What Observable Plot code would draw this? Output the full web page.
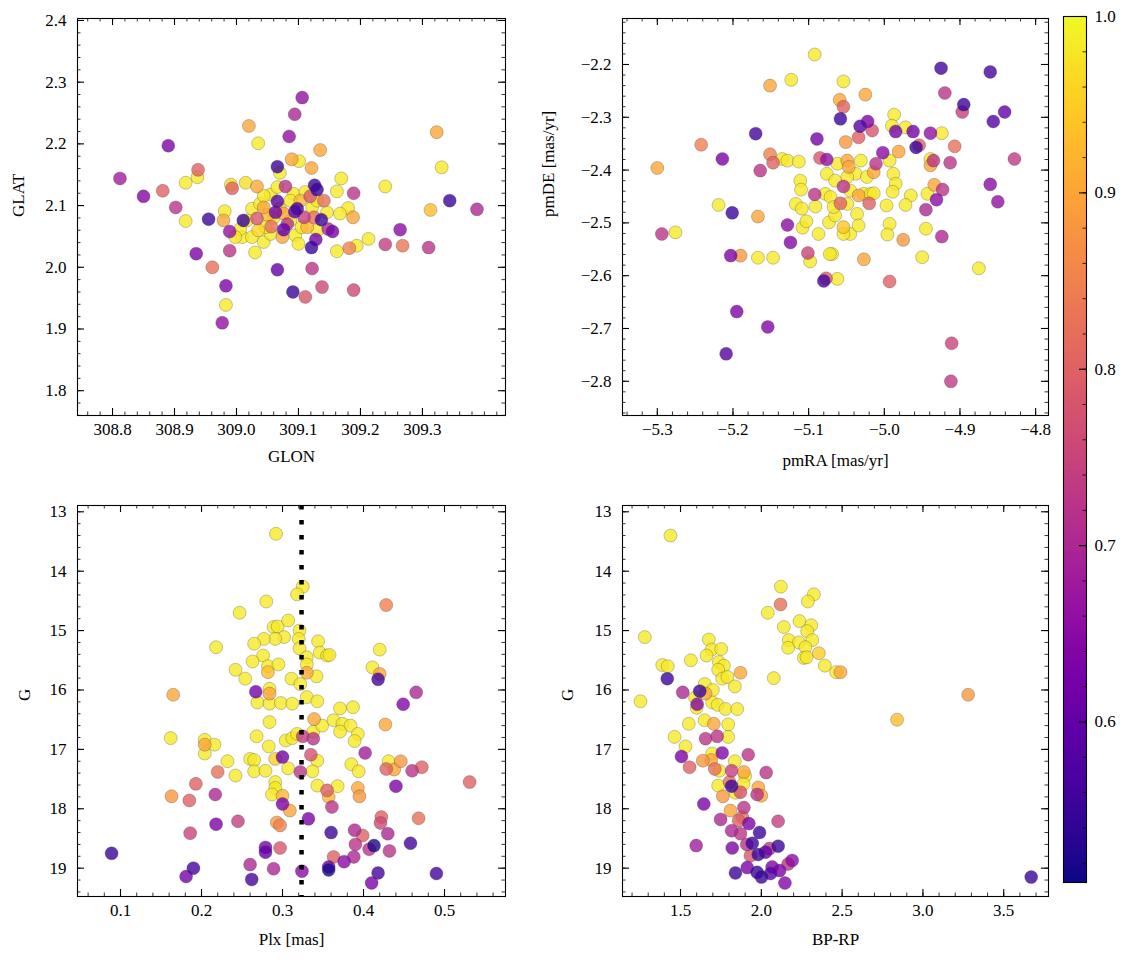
<!DOCTYPE html>
<html><head><meta charset="utf-8">
<script src="https://cdn.jsdelivr.net/npm/d3@7"></script>
<script src="https://cdn.jsdelivr.net/npm/@observablehq/plot@0.6"></script>
<style>
body{margin:0;background:#fff;}
#chart{position:relative;width:1133px;height:965px;background:#fff;font-family:"Liberation Serif",serif;}
#chart .pan{position:absolute;}
#chart svg{overflow:visible;}
</style></head>
<body><div id="chart"></div>
<script>
// ---- data: [x, y, membership probability] ----
const skyPoints = [
[308.812,2.144,0.68],[308.850,2.115,0.64],[308.890,2.197,0.63],[308.881,2.124,0.80],[308.902,2.097,0.72],
[308.938,2.158,0.80],[308.937,2.146,0.98],[308.918,2.137,0.98],[308.918,2.075,0.98],[308.955,2.078,0.55],
[308.935,2.022,0.63],[308.961,2.000,0.82],[308.983,1.970,0.63],[308.983,1.939,0.98],[308.977,1.910,0.66],
[308.981,2.091,0.98],[308.979,2.076,0.90],[308.989,2.058,0.66],[308.989,2.027,0.72],[308.991,2.134,0.97],
[308.993,2.128,0.80],[309.015,2.137,0.97],[309.033,2.131,0.90],[309.020,2.229,0.90],[309.035,2.201,0.98],
[309.085,2.212,0.66],[309.106,2.275,0.66],[309.094,2.248,0.70],[309.066,2.163,0.55],[309.070,2.153,0.98],
[309.089,2.175,0.90],[309.101,2.172,0.98],[309.135,2.190,0.90],[309.121,2.161,0.90],[309.169,2.144,0.98],
[309.162,2.123,0.98],[309.189,2.120,0.72],[309.126,2.133,0.55],[309.130,2.126,0.55],[309.119,2.115,0.78],
[309.141,2.108,0.82],[309.180,2.096,0.98],[309.167,2.087,0.98],[309.188,2.081,0.90],[309.240,2.131,0.98],
[309.323,2.219,0.90],[309.331,2.162,0.98],[309.313,2.093,0.93],[309.344,2.108,0.55],[309.388,2.094,0.70],
[309.264,2.061,0.65],[309.240,2.037,0.74],[309.268,2.035,0.83],[309.310,2.032,0.72],[309.213,2.046,0.98],
[309.194,2.035,0.98],[309.182,2.031,0.85],[309.162,2.026,0.98],[309.155,2.058,0.62],[309.148,2.062,0.70],
[309.121,2.032,0.55],[309.128,2.045,0.62],[309.137,2.077,0.55],[309.066,1.996,0.60],[309.122,1.998,0.72],
[309.091,1.960,0.55],[309.111,1.952,0.78],[309.138,1.968,0.76],[309.189,1.963,0.76],[309.030,2.024,0.98],
[309.011,2.076,0.55],[309.055,2.118,0.98],[309.066,2.130,0.98],[309.079,2.131,0.72],[309.092,2.119,0.98],
[309.111,2.122,0.98],[309.066,2.107,0.58],[309.098,2.095,0.56],[309.094,2.090,0.60],[309.063,2.089,0.62],
[309.033,2.079,0.78],[309.056,2.066,0.82],[309.076,2.061,0.60],[309.082,2.070,0.72],[309.109,2.081,0.74],
[309.125,2.081,0.82],[309.076,2.087,0.90],[309.044,2.097,0.90],[309.025,2.095,0.98],[309.038,2.103,0.98],
[309.009,2.049,0.98],[309.025,2.049,0.98],[309.044,2.041,0.98],[309.055,2.054,0.98],[309.074,2.049,0.90],
[309.095,2.052,0.98],[309.100,2.038,0.98],[309.114,2.065,0.92],[309.130,2.060,0.98],[309.146,2.089,0.98],
[309.006,2.062,0.98],[309.017,2.076,0.98],[309.047,2.065,0.98],[309.087,2.076,0.98],[309.122,2.097,0.98],
[309.130,2.108,0.98],[309.044,2.116,0.98],[309.087,2.108,0.98],[309.103,2.108,0.92],[308.998,2.049,0.98],
[309.060,2.080,0.97],[309.035,2.060,0.96],[309.105,2.065,0.98],[309.070,2.095,0.95],[309.050,2.085,0.93]
];
const pmPoints = [
[-5.092,-2.181,0.98],[-5.123,-2.229,0.98],[-5.151,-2.240,0.90],[-5.054,-2.232,0.98],[-5.059,-2.267,0.90],
[-5.054,-2.280,0.80],[-5.058,-2.303,0.55],[-5.051,-2.347,0.88],[-5.170,-2.331,0.56],[-5.089,-2.341,0.62],
[-5.242,-2.352,0.85],[-5.214,-2.379,0.63],[-5.300,-2.396,0.90],[-5.164,-2.401,0.72],[-5.151,-2.370,0.85],
[-5.147,-2.386,0.80],[-5.135,-2.379,0.98],[-5.128,-2.382,0.98],[-5.113,-2.384,0.98],[-5.085,-2.377,0.78],
[-5.076,-2.380,0.66],[-5.111,-2.420,0.98],[-5.110,-2.437,0.98],[-5.092,-2.446,0.72],[-5.076,-2.407,0.98],
[-5.054,-2.431,0.72],[-5.078,-2.445,0.98],[-5.049,-2.382,0.90],[-5.025,-2.257,0.90],[-4.925,-2.207,0.56],
[-4.860,-2.214,0.56],[-4.920,-2.254,0.72],[-4.895,-2.276,0.55],[-4.897,-2.290,0.74],[-4.841,-2.290,0.60],
[-4.856,-2.308,0.58],[-4.987,-2.295,0.98],[-4.990,-2.316,0.98],[-4.972,-2.319,0.98],[-4.985,-2.327,0.62],
[-4.962,-2.327,0.62],[-4.939,-2.330,0.66],[-4.924,-2.330,0.98],[-5.032,-2.317,0.58],[-5.022,-2.308,0.63],
[-5.016,-2.325,0.78],[-5.034,-2.338,0.80],[-4.958,-2.357,0.55],[-4.954,-2.353,0.80],[-4.907,-2.355,0.82],
[-5.002,-2.367,0.65],[-4.981,-2.365,0.90],[-4.993,-2.382,0.98],[-4.939,-2.379,0.98],[-4.935,-2.382,0.72],
[-4.939,-2.391,0.90],[-4.913,-2.386,0.72],[-4.828,-2.379,0.73],[-5.011,-2.388,0.72],[-5.014,-2.404,0.90],
[-4.988,-2.407,0.98],[-4.985,-2.426,0.98],[-4.989,-2.441,0.98],[-4.965,-2.448,0.98],[-4.943,-2.445,0.98],
[-4.934,-2.428,0.90],[-4.923,-2.437,0.72],[-4.860,-2.427,0.65],[-4.850,-2.460,0.66],[-5.062,-2.388,0.98],
[-5.047,-2.394,0.90],[-5.031,-2.382,0.98],[-5.038,-2.407,0.98],[-5.049,-2.413,0.98],[-5.065,-2.420,0.98],
[-5.023,-2.413,0.98],[-5.045,-2.439,0.98],[-5.027,-2.445,0.98],[-5.034,-2.448,0.90],[-5.018,-2.445,0.98],
[-4.931,-2.456,0.65],[-4.945,-2.475,0.70],[-4.924,-2.526,0.70],[-4.945,-2.511,0.98],[-4.950,-2.565,0.98],
[-4.875,-2.586,0.98],[-4.975,-2.532,0.88],[-5.027,-2.569,0.90],[-4.993,-2.611,0.80],[-4.911,-2.728,0.75],
[-4.912,-2.800,0.73],[-5.069,-2.559,0.98],[-4.993,-2.502,0.98],[-4.996,-2.522,0.98],[-4.997,-2.467,0.98],
[-4.972,-2.466,0.98],[-5.045,-2.521,0.98],[-5.036,-2.483,0.98],[-5.034,-2.505,0.98],[-5.049,-2.464,0.98],
[-5.020,-2.463,0.80],[-5.014,-2.444,0.98],[-5.219,-2.466,0.98],[-5.201,-2.481,0.55],[-5.167,-2.488,0.90],
[-5.294,-2.521,0.72],[-5.276,-2.518,0.98],[-5.128,-2.504,0.65],[-5.124,-2.537,0.64],[-5.203,-2.562,0.63],
[-5.190,-2.562,0.88],[-5.167,-2.566,0.98],[-5.147,-2.566,0.98],[-5.101,-2.557,0.75],[-5.098,-2.573,0.98],
[-5.072,-2.559,0.98],[-5.080,-2.610,0.56],[-5.077,-2.605,0.80],[-5.062,-2.606,0.98],[-5.195,-2.668,0.63],
[-5.154,-2.697,0.64],[-5.209,-2.748,0.58],[-5.117,-2.464,0.98],[-5.109,-2.473,0.98],[-5.108,-2.509,0.98],
[-5.103,-2.497,0.98],[-5.087,-2.521,0.98],[-5.091,-2.469,0.98],[-5.073,-2.499,0.98],[-5.065,-2.486,0.98],
[-5.058,-2.463,0.80],[-5.054,-2.508,0.94],[-5.071,-2.451,0.98],[-5.067,-2.470,0.98],[-5.054,-2.521,0.98]
];
const plxPoints = [
[0.292,13.37,0.98],[0.325,14.26,0.98],[0.318,14.39,0.98],[0.280,14.51,0.98],[0.247,14.70,0.98],
[0.289,14.94,0.98],[0.294,14.93,0.98],[0.307,14.83,0.98],[0.321,15.00,0.98],[0.302,15.11,0.98],
[0.291,15.14,0.98],[0.277,15.14,0.98],[0.265,15.22,0.98],[0.276,15.42,0.98],[0.263,15.52,0.98],
[0.218,15.28,0.98],[0.242,15.66,0.98],[0.254,15.81,0.98],[0.282,15.60,0.98],[0.282,15.70,0.93],
[0.295,15.57,0.98],[0.320,15.14,0.98],[0.321,15.30,0.98],[0.330,15.45,0.98],[0.344,15.18,0.98],
[0.346,15.37,0.98],[0.355,15.42,0.98],[0.330,15.57,0.98],[0.330,15.71,0.90],[0.342,15.77,0.98],
[0.311,15.81,0.98],[0.322,15.90,0.98],[0.267,16.03,0.62],[0.284,16.06,0.90],[0.284,15.98,0.98],
[0.165,16.08,0.90],[0.269,16.21,0.98],[0.284,16.23,0.98],[0.298,16.22,0.98],[0.312,16.23,0.98],
[0.330,16.12,0.98],[0.343,16.19,0.98],[0.428,14.57,0.85],[0.420,15.32,0.98],[0.358,15.41,0.98],
[0.411,15.62,0.98],[0.420,15.73,0.90],[0.418,15.82,0.56],[0.465,16.04,0.70],[0.449,16.24,0.64],
[0.371,16.31,0.98],[0.387,16.29,0.98],[0.162,16.81,0.98],[0.204,16.84,0.98],[0.204,16.92,0.90],
[0.216,16.92,0.98],[0.204,17.07,0.98],[0.232,17.20,0.98],[0.220,17.38,0.82],[0.242,17.44,0.98],
[0.193,17.58,0.80],[0.163,17.79,0.88],[0.185,17.86,0.80],[0.217,17.76,0.70],[0.186,18.41,0.75],
[0.218,18.26,0.63],[0.245,18.21,0.74],[0.190,19.00,0.56],[0.181,19.14,0.62],[0.260,18.94,0.70],
[0.262,19.19,0.56],[0.279,18.65,0.62],[0.279,18.73,0.60],[0.297,18.66,0.78],[0.289,19.01,0.70],
[0.324,19.05,0.65],[0.268,16.78,0.98],[0.283,16.95,0.98],[0.284,16.54,0.98],[0.260,17.16,0.98],
[0.265,17.18,0.98],[0.265,17.37,0.98],[0.279,17.36,0.98],[0.291,17.16,0.95],[0.300,17.13,0.62],
[0.307,17.32,0.98],[0.304,16.85,0.98],[0.312,16.81,0.98],[0.291,17.55,0.98],[0.291,17.65,0.98],
[0.287,17.76,0.98],[0.300,17.78,0.92],[0.300,17.92,0.63],[0.309,18.03,0.90],[0.293,18.23,0.88],
[0.297,18.28,0.85],[0.322,17.38,0.72],[0.325,16.78,0.73],[0.338,16.82,0.72],[0.335,17.09,0.77],
[0.339,16.49,0.90],[0.338,16.70,0.98],[0.349,16.60,0.98],[0.343,17.19,0.98],[0.337,17.37,0.98],
[0.343,17.61,0.98],[0.355,17.69,0.80],[0.332,18.17,0.63],[0.318,16.74,0.98],[0.427,16.58,0.90],
[0.363,16.51,0.98],[0.374,16.57,0.98],[0.384,16.60,0.98],[0.371,16.70,0.98],[0.393,16.74,0.98],
[0.389,16.86,0.98],[0.402,17.06,0.68],[0.385,17.25,0.98],[0.394,17.37,0.98],[0.431,17.20,0.98],
[0.446,17.20,0.88],[0.438,17.34,0.90],[0.428,17.33,0.80],[0.460,17.36,0.72],[0.472,17.30,0.80],
[0.531,17.55,0.80],[0.440,17.62,0.63],[0.368,17.62,0.98],[0.393,17.65,0.90],[0.395,17.79,0.88],
[0.357,17.80,0.92],[0.361,17.97,0.72],[0.468,18.16,0.82],[0.422,18.14,0.80],[0.421,18.24,0.76],
[0.360,18.40,0.55],[0.389,18.36,0.70],[0.399,18.45,0.80],[0.430,18.42,0.70],[0.390,18.60,0.72],
[0.413,18.62,0.52],[0.407,18.68,0.72],[0.432,18.71,0.72],[0.458,18.58,0.56],[0.363,18.81,0.80],
[0.376,18.89,0.65],[0.388,18.81,0.70],[0.357,18.98,0.60],[0.357,19.03,0.52],[0.418,19.08,0.56],
[0.410,19.25,0.63],[0.490,19.09,0.56],[0.089,18.75,0.55]
];
const cmdPoints = [
[1.438,13.40,0.98],[2.121,14.26,0.98],[2.119,14.56,0.82],[2.040,14.70,0.98],[2.325,14.39,0.98],
[2.288,14.51,0.98],[2.236,14.84,0.98],[2.139,14.94,0.98],[2.309,14.91,0.98],[2.284,15.01,0.98],
[2.170,15.16,0.98],[2.232,15.20,0.98],[2.315,15.16,0.98],[2.166,15.29,0.98],[2.273,15.28,0.98],
[2.356,15.38,0.95],[2.263,15.46,0.98],[2.280,15.45,0.98],[2.393,15.59,0.98],[2.463,15.70,0.98],
[2.490,15.70,0.90],[2.077,15.80,0.98],[1.279,15.11,0.98],[1.252,16.19,0.98],[1.387,15.58,0.98],
[1.421,15.60,0.98],[1.418,15.81,0.55],[1.564,15.50,0.98],[1.675,15.15,0.98],[1.692,15.32,0.98],
[1.752,15.31,0.98],[1.661,15.42,0.98],[1.737,15.53,0.98],[1.768,15.59,0.98],[1.733,15.66,0.98],
[1.871,15.71,0.90],[1.758,15.81,0.98],[1.790,15.78,0.98],[1.836,15.94,0.98],[1.514,16.04,0.70],
[1.619,16.02,0.55],[1.655,16.06,0.90],[1.603,16.24,0.64],[1.650,15.90,0.98],[1.700,16.00,0.98],
[1.696,16.21,0.98],[1.730,16.25,0.98],[1.778,16.32,0.98],[1.851,16.32,0.98],[1.590,16.13,0.98],
[1.551,16.57,0.98],[1.649,16.51,0.98],[1.706,16.57,0.90],[1.795,16.58,0.98],[1.600,16.30,0.98],
[1.463,16.79,0.98],[1.531,16.95,0.98],[1.506,17.12,0.63],[1.556,17.30,0.80],[1.655,16.82,0.72],
[1.727,16.78,0.72],[1.758,17.06,0.64],[1.795,16.79,0.98],[1.696,17.07,0.98],[1.638,17.19,0.88],
[1.690,17.18,0.90],[1.836,17.20,0.98],[1.919,17.09,0.72],[1.712,17.33,0.82],[1.740,17.36,0.98],
[1.816,17.36,0.74],[1.892,17.38,0.90],[1.900,17.45,0.98],[2.030,17.39,0.72],[1.733,17.61,0.98],
[1.803,17.55,0.82],[1.816,17.62,0.55],[1.762,17.79,0.88],[1.840,17.73,0.98],[1.871,17.72,0.77],
[1.890,17.58,0.98],[1.981,17.64,0.90],[1.974,17.76,0.72],[2.000,17.78,0.90],[1.644,17.92,0.63],
[1.809,18.03,0.90],[1.892,17.98,0.72],[1.748,18.18,0.70],[1.882,18.14,0.82],[1.923,18.25,0.63],
[1.860,18.20,0.80],[2.104,18.21,0.74],[1.816,18.37,0.70],[1.871,18.42,0.72],[1.989,18.40,0.55],
[1.944,18.58,0.55],[1.910,18.60,0.72],[1.597,18.62,0.68],[1.820,18.66,0.63],[2.104,18.63,0.55],
[1.933,18.79,0.78],[1.981,18.77,0.55],[2.026,18.73,0.60],[2.050,18.67,0.72],[2.191,18.87,0.65],
[2.166,18.93,0.72],[1.913,18.99,0.63],[1.840,19.08,0.55],[1.974,19.07,0.55],[2.001,19.15,0.55],
[2.057,19.09,0.58],[2.067,18.98,0.63],[2.113,19.04,0.63],[2.146,19.25,0.64],[3.670,19.15,0.55],
[3.280,16.08,0.88],[2.840,16.50,0.93]
];
const plxCut = 0.3235;

// ---- tick labels ----
const glonTicks = [308.8, 308.9, 309.0, 309.1, 309.2, 309.3];
const glatTicks = [1.8, 1.9, 2.0, 2.1, 2.2, 2.3, 2.4];
const pmraTicks = [-5.3, -5.2, -5.1, -5.0, -4.9, -4.8];
const pmdeTicks = [-2.8, -2.7, -2.6, -2.5, -2.4, -2.3, -2.2];
const plxTicks = [0.1, 0.2, 0.3, 0.4, 0.5];
const gTicks = [13, 14, 15, 16, 17, 18, 19];
const bprpTicks = [1.5, 2.0, 2.5, 3.0, 3.5];
const probTicks = [0.6, 0.7, 0.8, 0.9, 1.0];
const probDomain = [0.509, 1.0];

const FONT = "Liberation Serif";
const FS = 17;
const f1 = d3.format(".1f"), f0 = d3.format("d");

function minorVals(domain, step) {
  const lo = Math.min(...domain), hi = Math.max(...domain);
  const a = Math.ceil(lo / step - 1e-9), b = Math.floor(hi / step + 1e-9);
  return d3.range(a, b + 1).map(i => +(i * step).toFixed(6));
}

function panel(o) {
  const innerW = o.width - o.mL - o.mR, innerH = o.height - o.mT - o.mB;
  const tx = (vals, len, sw) => [
    Plot.tickX(vals, {x: d => d, insetTop: innerH - len, stroke: "#000", strokeWidth: sw}),
    Plot.tickX(vals, {x: d => d, insetBottom: innerH - len, stroke: "#000", strokeWidth: sw})
  ];
  const ty = (vals, len, sw) => [
    Plot.tickY(vals, {y: d => d, insetRight: innerW - len, stroke: "#000", strokeWidth: sw}),
    Plot.tickY(vals, {y: d => d, insetLeft: innerW - len, stroke: "#000", strokeWidth: sw})
  ];
  const sorted = o.data.slice().sort((a, b) => b[2] - a[2]);
  return Plot.plot({
    width: o.width, height: o.height,
    marginLeft: o.mL, marginRight: o.mR, marginTop: o.mT, marginBottom: o.mB,
    style: {fontFamily: FONT, fontSize: FS + "px", background: "transparent", color: "#000", overflow: "visible"},
    x: {domain: o.xDomain, ticks: o.xMajor, tickSize: 0, tickPadding: 7, tickFormat: o.xFmt, label: null},
    y: {domain: o.yDomain, reverse: !!o.yReverse, ticks: o.yMajor, tickSize: 0, tickPadding: 11, tickFormat: o.yFmt, label: null},
    color: {type: "linear", scheme: "plasma", domain: probDomain},
    marks: [
      Plot.dot(sorted, {x: d => d[0], y: d => d[1], fill: d => d[2], r: 6.5, fillOpacity: 0.8,
        stroke: "#333", strokeWidth: 0.5, strokeOpacity: 0.55}),
      ...(o.extra || []),
      ...tx(minorVals(o.xDomain, o.xMinor), 3.5, 0.8),
      ...tx(o.xMajor, 7, 1.1),
      ...ty(minorVals(o.yDomain, o.yMinor), 3.5, 0.8),
      ...ty(o.yMajor, 7, 1.1),
      Plot.frame({stroke: "#000", strokeWidth: 1.1}),
      Plot.text([o.xLabel], {frameAnchor: "bottom", dy: o.xLabelDy, text: d => d, fontSize: FS}),
      Plot.text([o.yLabel], {frameAnchor: "left", dx: o.yLabelDx, rotate: -90, text: d => d, fontSize: FS})
    ]
  });
}

function place(node, left, top) {
  const wrap = document.createElement("div");
  wrap.className = "pan";
  wrap.style.left = left + "px";
  wrap.style.top = top + "px";
  wrap.appendChild(node);
  document.getElementById("chart").appendChild(wrap);
}

// Top-left: sky position
place(panel({
  data: skyPoints, width: 520, height: 480, mL: 77, mR: 15, mT: 18, mB: 65,
  xDomain: [308.7435, 309.434], yDomain: [1.7598, 2.4032],
  xMajor: glonTicks, xMinor: 0.02, yMajor: glatTicks, yMinor: 0.02,
  xFmt: f1, yFmt: f1, xLabel: "GLON", yLabel: "GLAT", xLabelDy: 46, yLabelDx: -59
}), 0, 0);

// Top-right: proper motions
place(panel({
  data: pmPoints, width: 520, height: 480, mL: 82, mR: 12, mT: 18, mB: 65,
  xDomain: [-5.346, -4.783], yDomain: [-2.8648, -2.1129],
  xMajor: pmraTicks, xMinor: 0.02, yMajor: pmdeTicks, yMinor: 0.02,
  xFmt: f1, yFmt: f1, xLabel: "pmRA [mas/yr]", yLabel: "pmDE [mas/yr]", xLabelDy: 50, yLabelDx: -74
}), 540, 0);

// Bottom-left: parallax vs G
place(panel({
  data: plxPoints, width: 520, height: 485, mL: 77, mR: 15, mT: 25, mB: 69,
  xDomain: [0.0469, 0.5753], yDomain: [12.894, 19.477], yReverse: true,
  xMajor: plxTicks, xMinor: 0.02, yMajor: gTicks, yMinor: 0.2,
  xFmt: f1, yFmt: f0, xLabel: "Plx [mas]", yLabel: "G", xLabelDy: 48, yLabelDx: -53,
  extra: [Plot.ruleX([plxCut], {x: d => d, stroke: "#000", strokeWidth: 4.5, strokeDasharray: "4.5,10.5"})]
}), 0, 480);

// Bottom-right: CMD
place(panel({
  data: cmdPoints, width: 520, height: 485, mL: 82, mR: 12, mT: 25, mB: 69,
  xDomain: [1.141, 3.777], yDomain: [12.894, 19.477], yReverse: true,
  xMajor: bprpTicks, xMinor: 0.1, yMajor: gTicks, yMinor: 0.2,
  xFmt: f1, yFmt: f0, xLabel: "BP-RP", yLabel: "G", xLabelDy: 48, yLabelDx: -55
}), 540, 480);

// Colorbar
(function () {
  const W = 73, H = 900, mL = 3, mR = 47, mT = 16, mB = 18;
  const innerW = W - mL - mR;
  const step = 0.002;
  const stops = d3.range(probDomain[0], probDomain[1], step);
  const cb = Plot.plot({
    width: W, height: H, marginLeft: mL, marginRight: mR, marginTop: mT, marginBottom: mB,
    style: {fontFamily: FONT, fontSize: FS + "px", background: "transparent", color: "#000", overflow: "visible"},
    x: {domain: [0, 1], axis: null},
    y: {domain: probDomain, axis: "right", ticks: probTicks, tickSize: 0, tickPadding: 8, tickFormat: f1, label: null},
    color: {type: "linear", scheme: "plasma", domain: probDomain},
    marks: [
      Plot.rect(stops, {x1: 0, x2: 1, y1: d => d, y2: d => Math.min(d + step * 1.5, probDomain[1]), fill: d => d}),
      Plot.tickY(minorVals(probDomain, 0.02), {y: d => d, insetLeft: innerW - 3.5, stroke: "#000", strokeWidth: 0.8}),
      Plot.tickY(probTicks, {y: d => d, insetLeft: innerW - 7, stroke: "#000", strokeWidth: 1.1}),
      Plot.frame({stroke: "#000", strokeWidth: 1.1})
    ]
  });
  place(cb, 1060, 0);
})();
</script></body></html>
